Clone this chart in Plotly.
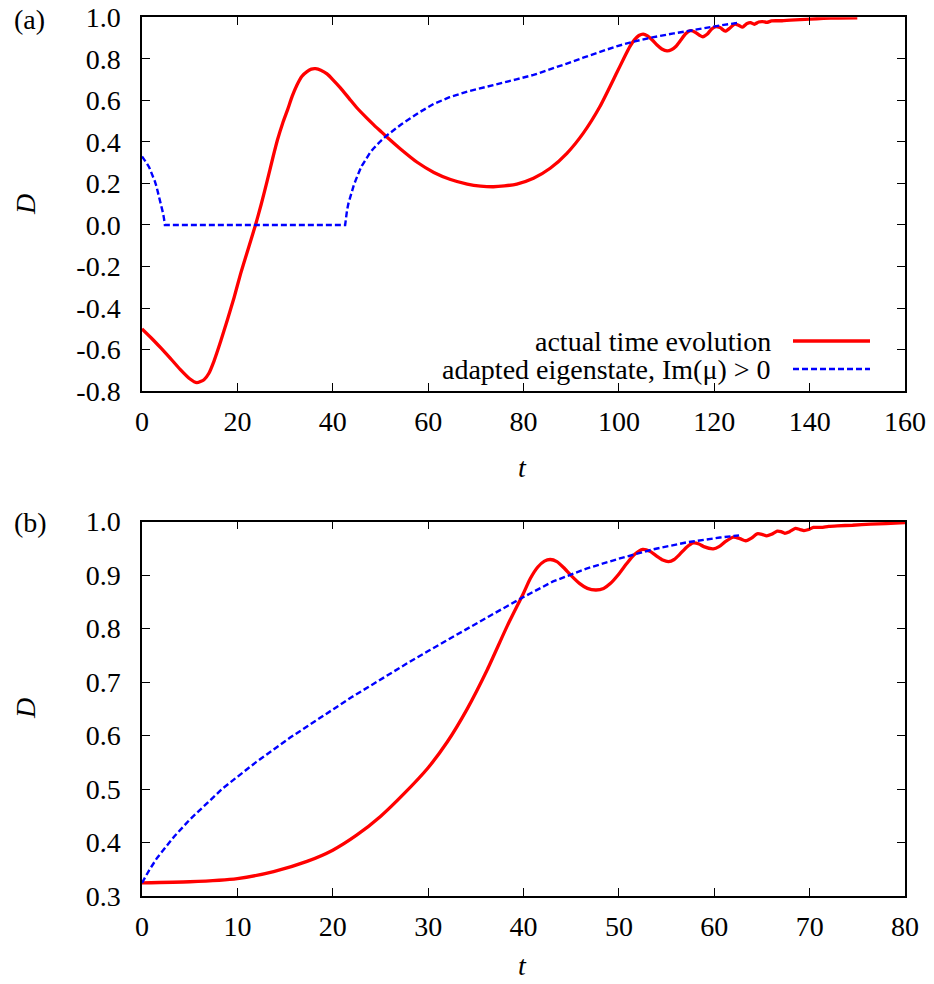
import plotly.graph_objects as go

# ---------------- data ----------------
# panel (a): actual time evolution
red_a_t = [0, 2, 4, 6, 8, 10, 11.5, 13, 14, 15.1, 16.5, 17.9, 19.3, 20.7, 22.2,
           23.8, 25, 26.3, 27.4, 28.4, 29.5, 30.5, 31.5, 32.5, 33.5, 34.6, 35.5, 36.4, 37.5,
           38.8, 40, 41.6, 43.5, 45.1, 47, 48.6, 50, 51.4, 54.2, 57.7, 61.2, 64.7, 68.2,
           71, 73.7, 76, 78.6, 82.1, 85.6, 89.1, 92.5, 96.0, 99.5, 101, 102.3, 103.3, 104.2,
           105.1, 106.0, 107.0, 108.0, 109.0, 110.1, 111.0, 112.0, 113.0, 114.0, 115.0, 116.0,
           117.0, 117.6, 118.5, 119.4, 120.2, 121.2, 122.3, 123.3, 124.3, 125.2, 125.9, 126.9,
           127.6, 128.4, 129.3, 130.2, 131.0, 132, 133, 134.2, 136, 138, 140, 142.9, 146, 150]
red_a_D = [-0.50, -0.545, -0.593, -0.643, -0.695, -0.74, -0.759, -0.745, -0.715, -0.655,
           -0.56, -0.457, -0.35, -0.233, -0.12, 0.0, 0.10, 0.217, 0.32, 0.409, 0.49, 0.553,
           0.62, 0.674, 0.715, 0.738, 0.75, 0.752, 0.745, 0.727, 0.70, 0.66, 0.607, 0.563,
           0.518, 0.482, 0.452, 0.422, 0.366, 0.302, 0.253, 0.219, 0.197, 0.187, 0.184, 0.188,
           0.197, 0.225, 0.273, 0.345, 0.441, 0.569, 0.73, 0.80, 0.858, 0.892, 0.912, 0.919,
           0.91, 0.89, 0.866, 0.847, 0.838, 0.843, 0.86, 0.89, 0.92, 0.935, 0.928, 0.912,
           0.906, 0.918, 0.942, 0.954, 0.95, 0.933, 0.948, 0.967, 0.96, 0.952, 0.97, 0.974,
           0.966, 0.977, 0.979, 0.975, 0.982, 0.983, 0.983, 0.986, 0.988, 0.991, 0.994, 0.996,
           0.997]

# panel (a): adapted eigenstate, Im(mu) > 0
blue_a_t = [0, 0.5, 1, 1.5, 1.9, 2.3, 2.7, 3.0, 3.3, 3.6, 3.9, 4.2, 4.4, 4.6, 4.8, 42.6, 42.8,
            43.0, 43.3, 43.7, 44.0, 44.4, 44.8, 45.1, 45.6, 46.1, 46.6, 47.2, 47.8, 48.5,
            49.2, 50, 51.3, 52.7, 54.4, 56.2, 58, 61.2, 64.5, 68.2, 71.5, 75.1, 78.5, 82.1,
            85.5, 89.1, 92.5, 96, 99.5, 103, 107, 111.5, 115, 118.5, 122, 125.1]
blue_a_D = [0.33, 0.315, 0.297, 0.278, 0.258, 0.236, 0.21, 0.188, 0.163, 0.137, 0.11, 0.08,
            0.058, 0.033, 0.0, 0.0, 0.045, 0.072, 0.105, 0.14, 0.163, 0.19, 0.215, 0.235,
            0.26, 0.285, 0.305, 0.327, 0.347, 0.367, 0.385, 0.403, 0.43, 0.456, 0.485, 0.512,
            0.54, 0.583, 0.615, 0.642, 0.662, 0.682, 0.701, 0.722, 0.747, 0.777, 0.805,
            0.834, 0.86, 0.882, 0.903, 0.922, 0.936, 0.951, 0.963, 0.973]

# panel (b): actual time evolution
red_b_t = [0, 5, 10, 13.8, 17.3, 20, 22.5, 25, 27.5, 30, 32, 34.1, 36.2, 38.3, 40.0, 40.7,
           41.5, 42.2, 42.8, 43.5, 44.2, 45.0, 45.9, 46.7, 47.6, 48.4, 49.1, 50.0, 50.8, 51.6,
           52.5, 53.3, 54.0, 54.6, 55.2, 55.8, 56.4, 57.1, 57.8, 58.4, 58.9, 59.9, 60.5, 61.2,
           62.0, 62.7, 63.3, 63.9, 64.5, 65.0, 65.5, 66.0, 66.6, 67.0, 67.4, 67.9, 68.5, 69.0,
           69.4, 69.9, 70.4, 71.2, 72.0, 72.9, 74.5, 76.4, 78, 80]
red_b_D = [0.325, 0.327, 0.333, 0.346, 0.365, 0.386, 0.414, 0.449, 0.492, 0.54, 0.588, 0.65,
           0.723, 0.805, 0.866, 0.893, 0.915, 0.926, 0.929, 0.925, 0.914, 0.899, 0.884, 0.875,
           0.872, 0.875, 0.884, 0.902, 0.921, 0.938, 0.948, 0.944, 0.935, 0.928, 0.925, 0.929,
           0.939, 0.952, 0.96, 0.958, 0.953, 0.949, 0.953, 0.963, 0.971, 0.968, 0.964, 0.969,
           0.977, 0.976, 0.973, 0.976, 0.982, 0.981, 0.978, 0.981, 0.987, 0.985, 0.983, 0.985,
           0.989, 0.989, 0.991, 0.992, 0.993, 0.995, 0.996, 0.998]

# panel (b): adapted eigenstate
blue_b_t = [0, 0.8, 1.6, 2.5, 3.4, 5, 6.9, 8.5, 10, 12, 13.8, 15.5, 17.3, 20, 22, 24.3, 26,
            27.8, 30, 33, 36.5, 40, 43.1, 46.6, 50.1, 53.6, 57.1, 60.6, 62.6]
blue_b_D = [0.325, 0.35, 0.372, 0.393, 0.412, 0.443, 0.476, 0.502, 0.523, 0.551, 0.574, 0.596,
            0.617, 0.649, 0.672, 0.697, 0.716, 0.735, 0.758, 0.789, 0.824, 0.859, 0.888,
            0.912, 0.931, 0.948, 0.961, 0.97, 0.974]

# tick values / labels
xa_ticks = [0, 20, 40, 60, 80, 100, 120, 140, 160]
xa_labels = ["0", "20", "40", "60", "80", "100", "120", "140", "160"]
ya_ticks = [-0.8, -0.6, -0.4, -0.2, 0.0, 0.2, 0.4, 0.6, 0.8, 1.0]
ya_labels = ["-0.8", "-0.6", "-0.4", "-0.2", "0.0", "0.2", "0.4", "0.6", "0.8", "1.0"]
xb_ticks = [0, 10, 20, 30, 40, 50, 60, 70, 80]
xb_labels = ["0", "10", "20", "30", "40", "50", "60", "70", "80"]
yb_ticks = [0.3, 0.4, 0.5, 0.6, 0.7, 0.8, 0.9, 1.0]
yb_labels = ["0.3", "0.4", "0.5", "0.6", "0.7", "0.8", "0.9", "1.0"]

legend_names = ["actual time evolution", "adapted eigenstate, Im(\u03bc) > 0"]

# ---------------- styling ----------------
W, H = 934, 984
FONT = "Liberation Serif"
FS = 28
RED = "#ff0000"
BLUE = "#0000ff"
red_line = dict(color=RED, width=3.3, shape="spline", smoothing=0.6)
blue_line = dict(color=BLUE, width=2.4, dash="6px,3px")

fig = go.Figure()
fig.add_trace(go.Scatter(x=red_a_t, y=red_a_D, mode="lines", line=red_line,
                         xaxis="x", yaxis="y", showlegend=False))
fig.add_trace(go.Scatter(x=blue_a_t, y=blue_a_D, mode="lines", line=blue_line,
                         xaxis="x", yaxis="y", showlegend=False))
fig.add_trace(go.Scatter(x=red_b_t, y=red_b_D, mode="lines", line=red_line,
                         xaxis="x2", yaxis="y2", showlegend=False))
fig.add_trace(go.Scatter(x=blue_b_t, y=blue_b_D, mode="lines", line=blue_line,
                         xaxis="x2", yaxis="y2", showlegend=False))

xdom = [142 / W, 905 / W]
ydom_a = [1 - 391.2 / H, 1 - 17.2 / H]
ydom_b = [1 - 896.2 / H, 1 - 521.5 / H]

common = dict(showline=True, linecolor="black", linewidth=1.5, mirror="ticks",
              ticks="inside", ticklen=8, tickwidth=1.3, tickcolor="black",
              showgrid=False, zeroline=False, automargin=False,
              tickfont=dict(family=FONT, size=FS, color="black"))

fig.update_layout(
    width=W, height=H, margin=dict(l=0, r=0, t=0, b=0, autoexpand=False),
    paper_bgcolor="white", plot_bgcolor="white", showlegend=False,
    xaxis=dict(domain=xdom, range=[0, 160], anchor="y", tickvals=xa_ticks,
               ticktext=xa_labels, ticklabelstandoff=4, **common),
    yaxis=dict(domain=ydom_a, range=[-0.8, 1.0], anchor="x", tickvals=ya_ticks,
               ticktext=ya_labels, ticklabelstandoff=14, **common),
    xaxis2=dict(domain=xdom, range=[0, 80], anchor="y2", tickvals=xb_ticks,
                ticktext=xb_labels, ticklabelstandoff=4, **common),
    yaxis2=dict(domain=ydom_b, range=[0.3, 1.0], anchor="x2", tickvals=yb_ticks,
                ticktext=yb_labels, ticklabelstandoff=14, **common),
)

tfont = dict(family=FONT, size=FS, color="black")
ann = []
ann.append(dict(text="(a)", x=12 / W, y=1 - 20 / H, xref="paper", yref="paper",
                xanchor="left", yanchor="middle", showarrow=False, font=tfont))
ann.append(dict(text="(b)", x=12 / W, y=1 - 522 / H, xref="paper", yref="paper",
                xanchor="left", yanchor="middle", showarrow=False, font=tfont))
ann.append(dict(text="<i>D</i>", x=25 / W, y=1 - 205 / H, xref="paper", yref="paper",
                textangle=-90, xanchor="center", yanchor="middle", showarrow=False, font=tfont))
ann.append(dict(text="<i>D</i>", x=25 / W, y=1 - 709 / H, xref="paper", yref="paper",
                textangle=-90, xanchor="center", yanchor="middle", showarrow=False, font=tfont))
ann.append(dict(text="<i>t</i>", x=522 / W, y=1 - 467 / H, xref="paper", yref="paper",
                xanchor="center", yanchor="middle", showarrow=False, font=tfont))
ann.append(dict(text="<i>t</i>", x=522 / W, y=1 - 965 / H, xref="paper", yref="paper",
                xanchor="center", yanchor="middle", showarrow=False, font=tfont))
# legend (gnuplot style: text right-aligned, key sample to the right)
leg_y = [1 - 341 / H, 1 - 369 / H]
for name, yy in zip(legend_names, leg_y):
    ann.append(dict(text=name, x=773 / W, y=yy, xref="paper", yref="paper",
                    xanchor="right", yanchor="middle", showarrow=False, font=tfont))
fig.update_layout(annotations=ann)

shapes = [
    dict(type="line", xref="paper", yref="paper", x0=793 / W, x1=870 / W,
         y0=leg_y[0], y1=leg_y[0], line=dict(color=RED, width=3.3)),
    dict(type="line", xref="paper", yref="paper", x0=793 / W, x1=870 / W,
         y0=leg_y[1], y1=leg_y[1], line=dict(color=BLUE, width=2.4, dash="6px,3px")),
]
fig.update_layout(shapes=shapes)

fig.write_html("out.html")
